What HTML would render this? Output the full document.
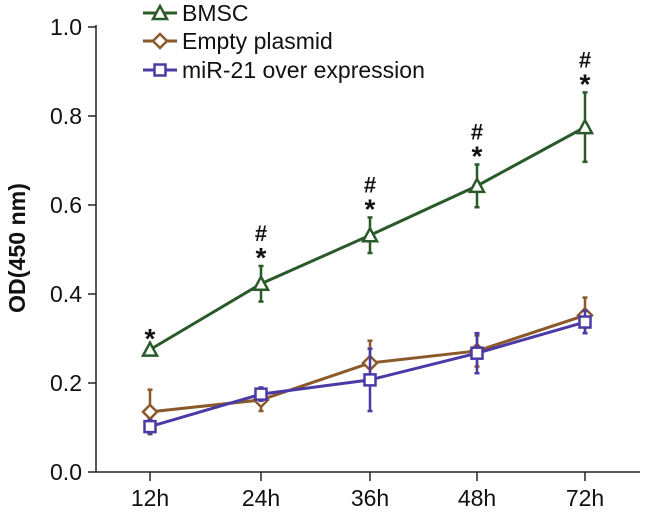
<!DOCTYPE html>
<html><head><meta charset="utf-8"><style>
html,body{margin:0;padding:0;background:#fff;}
svg{display:block;font-family:"Liberation Sans",Arial,sans-serif;}
</style></head><body>
<svg id="chart" width="650" height="513" viewBox="0 0 650 513"></svg>
<script>
const categories=["12h","24h","36h","48h","72h"];
const yTicks=[0,0.2,0.4,0.6,0.8,1.0];
const bmsc=[0.275,0.423,0.532,0.643,0.775];
const bmscErr=[0.006,0.04,0.04,0.048,0.078];
const empty=[0.135,0.162,0.245,0.272,0.352];
const emptyErr=[0.05,0.025,0.05,0.035,0.04];
const mir=[0.102,0.175,0.207,0.267,0.337];
const mirErr=[0.015,0.015,0.07,0.045,0.025];
const starFlags=[1,1,1,1,1];
const hashFlags=[0,1,1,1,1];
const svg=document.getElementById('chart');
const NS='http://www.w3.org/2000/svg';
const x0=96,y0=472,yTop=27;
const xs=[150,261,370,477,585];
function X(i){return xs[i];}
function Y(v){return y0-(y0-yTop)*v/1.0;}
function el(t,a,p){const e=document.createElementNS(NS,t);for(const k in a)e.setAttribute(k,a[k]);(p||svg).appendChild(e);return e;}
let ax=el('line',{x1:x0,y1:yTop-2,x2:x0,y2:y0,stroke:'#222','stroke-width':1.5});

let bx=el('line',{x1:x0,y1:y0,x2:640,y2:y0,stroke:'#222','stroke-width':1.5});

yTicks.forEach(v=>{
 el('line',{x1:88,y1:Y(v),x2:x0,y2:Y(v),stroke:'#222','stroke-width':1.5});
 const t=el('text',{x:82,y:Y(v)+8,'text-anchor':'end','font-size':23,fill:'#111'});t.textContent=v.toFixed(1);
 
});
categories.forEach((c,i)=>{
 el('line',{x1:X(i),y1:y0,x2:X(i),y2:481,stroke:'#222','stroke-width':1.5});
 const t=el('text',{x:X(i),y:506,'text-anchor':'middle','font-size':23,fill:'#111'});t.textContent=c;
 
});
const yt=el('text',{transform:'translate(25,248) rotate(-90)','text-anchor':'middle','font-size':23,'font-weight':'bold',fill:'#111',textLength:130,lengthAdjust:'spacingAndGlyphs'});yt.textContent='OD(450 nm)';

function marker(type,cx,cy,col,g){
 if(type==='tri')el('path',{d:`M${cx-7},${cy+6}L${cx},${cy-7}L${cx+7},${cy+6}Z`,fill:'#fff',stroke:col,'stroke-width':2.5},g);
 else if(type==='dia')el('path',{d:`M${cx-7},${cy}L${cx},${cy-7}L${cx+7},${cy}L${cx},${cy+7}Z`,fill:'#fff',stroke:col,'stroke-width':2.5},g);
 else el('rect',{x:cx-5.5,y:cy-5.5,width:11,height:11,fill:'#fff',stroke:col,'stroke-width':2.5},g);
}
function series(name,vals,errs,col,type){
 const g=el('g',{});
 vals.forEach((v,i)=>{
  const a=Y(v+errs[i]),b=Y(v-errs[i]);
  el('line',{x1:X(i),y1:a,x2:X(i),y2:b,stroke:col,'stroke-width':2.5},g);
  el('line',{x1:X(i)-2.5,y1:a,x2:X(i)+2.5,y2:a,stroke:col,'stroke-width':2.5},g);
  el('line',{x1:X(i)-2.5,y1:b,x2:X(i)+2.5,y2:b,stroke:col,'stroke-width':2.5},g);
 });
 el('polyline',{points:vals.map((v,i)=>X(i)+','+Y(v)).join(' '),fill:'none',stroke:col,'stroke-width':3},g);
 vals.forEach((v,i)=>marker(type,X(i),Y(v),col,g));
}
series('empty-plasmid-series',empty,emptyErr,'#8b5a2b','dia');
series('mir21-series',mir,mirErr,'#4b3aa6','sq');
series('bmsc-series',bmsc,bmscErr,'#2a5a2a','tri');
bmsc.forEach((v,i)=>{
 const top=Y(v+bmscErr[i]);
 if(starFlags[i]){const t=el('text',{x:X(i),y:top+1,'text-anchor':'middle','font-size':28,'font-weight':'bold',fill:'#111'});t.textContent='*';
  }
 if(hashFlags[i]){const t=el('text',{x:X(i),y:top-25,'text-anchor':'middle','font-size':22,'font-weight':'bold',fill:'#111'});t.textContent='#';
  }
});
const legend=[['BMSC','#2a5a2a','tri',13],['Empty plasmid','#8b5a2b','dia',41],['miR-21 over expression','#4b3aa6','sq',70]];
legend.forEach(l=>{
 const g=el('g',{});
 el('line',{x1:143,y1:l[3],x2:177,y2:l[3],stroke:l[1],'stroke-width':3},g);
 marker(l[2],160,l[3],l[1],g);
 const t=el('text',{x:182,y:l[3]+8,'font-size':23,fill:'#111'},g);t.textContent=l[0];
});
</script>
</body></html>
